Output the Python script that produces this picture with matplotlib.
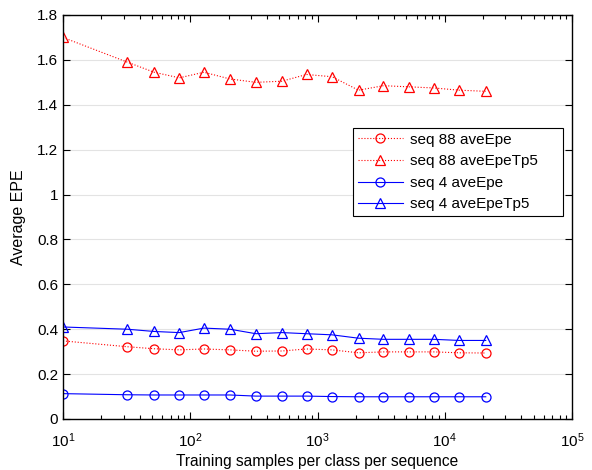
import matplotlib
matplotlib.use("Agg")
import matplotlib.pyplot as plt
from matplotlib.ticker import LogLocator, NullFormatter, FixedLocator

plt.rcParams["font.family"] = ["Liberation Sans", "DejaVu Sans"]
plt.rcParams["mathtext.fontset"] = "custom"
plt.rcParams["mathtext.rm"] = "Liberation Sans"
plt.rcParams["mathtext.it"] = "Liberation Sans"
plt.rcParams["mathtext.bf"] = "Liberation Sans"

# training samples per class per sequence
samples = [10, 32, 52, 82, 128, 205, 328, 525, 820, 1300, 2100, 3300, 5200, 8200, 13000, 21000]

seq88_epe = [0.348, 0.322, 0.313, 0.308, 0.312, 0.308, 0.302, 0.303,
             0.312, 0.308, 0.295, 0.299, 0.299, 0.299, 0.295, 0.294]
seq88_tp5 = [1.70, 1.59, 1.545, 1.52, 1.545, 1.515, 1.50, 1.505,
             1.535, 1.525, 1.465, 1.485, 1.48, 1.475, 1.465, 1.46]
seq4_epe = [0.113, 0.108, 0.107, 0.107, 0.107, 0.107, 0.102, 0.102,
            0.102, 0.100, 0.099, 0.099, 0.099, 0.099, 0.099, 0.099]
seq4_tp5 = [0.41, 0.40, 0.39, 0.385, 0.405, 0.40, 0.38, 0.385,
            0.38, 0.375, 0.36, 0.355, 0.355, 0.355, 0.35, 0.35]

labels = ["seq 88 aveEpe", "seq 88 aveEpeTp5", "seq 4 aveEpe", "seq 4 aveEpeTp5"]
yticks = [0, 0.2, 0.4, 0.6, 0.8, 1, 1.2, 1.4, 1.6, 1.8]
ytick_labels = ["0", "0.2", "0.4", "0.6", "0.8", "1", "1.2", "1.4", "1.6", "1.8"]

fig = plt.figure(figsize=(5.92, 4.70), dpi=100)
ax = fig.add_axes([63 / 592, 1 - 419 / 470, 509 / 592, 404 / 470])

ms = 6.5
ax.plot(samples, seq88_epe, color="red", ls=":", lw=0.8, marker="o", ms=ms,
        mfc="none", mew=0.9, label=labels[0])
ax.plot(samples, seq88_tp5, color="red", ls=":", lw=0.8, marker="^", ms=ms + 1,
        mfc="none", mew=0.9, label=labels[1])
ax.plot(samples, seq4_epe, color="blue", ls="-", lw=0.8, marker="o", ms=ms,
        mfc="none", mew=0.9, label=labels[2])
ax.plot(samples, seq4_tp5, color="blue", ls="-", lw=0.8, marker="^", ms=ms + 1,
        mfc="none", mew=0.9, label=labels[3])

ax.set_xscale("log")
ax.set_xlim(10, 1e5)
ax.set_ylim(0, 1.8)
ax.yaxis.set_major_locator(FixedLocator(yticks))
ax.set_yticklabels(ytick_labels)
ax.xaxis.set_major_locator(LogLocator(base=10))
ax.xaxis.set_minor_locator(LogLocator(base=10, subs=range(2, 10)))
ax.xaxis.set_minor_formatter(NullFormatter())

ax.grid(True, axis="y", color="#e3e3e3", lw=0.8)
ax.set_axisbelow(True)
ax.tick_params(which="both", direction="in", top=True, right=True, labelsize=11,
               width=0.8, colors="black")
ax.tick_params(which="major", length=5)
ax.tick_params(which="minor", length=3)
ax.tick_params(axis="x", pad=9)
for s in ax.spines.values():
    s.set_linewidth(1.0)

ax.set_xlabel("Training samples per class per sequence", fontsize=11.2, labelpad=3)
ax.set_ylabel("Average EPE", fontsize=11.5, labelpad=8)

leg = ax.legend(loc="upper left", bbox_to_anchor=(0.5697, 0.5, 0.4126, 0.2203),
                mode="expand", fontsize=11, frameon=True, fancybox=False,
                edgecolor="black", framealpha=1, handlelength=3.0,
                handletextpad=0.4, borderpad=0.3, labelspacing=0.5,
                borderaxespad=0)
leg.get_frame().set_linewidth(0.8)

fig.savefig("out.png", dpi=100)
